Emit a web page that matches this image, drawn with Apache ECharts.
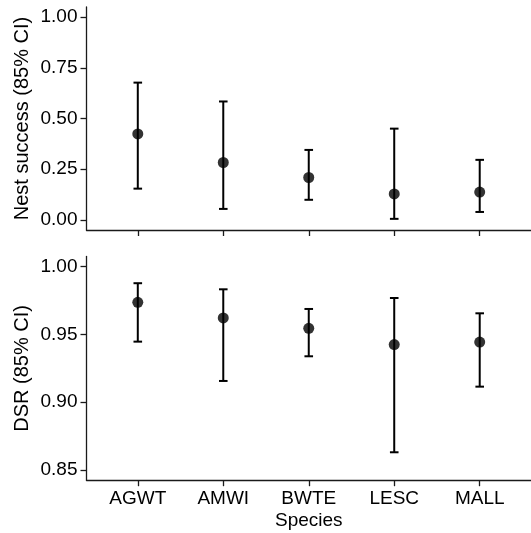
<!DOCTYPE html>
<html>
<head>
<meta charset="utf-8">
<script src="https://cdn.jsdelivr.net/npm/echarts@6/dist/echarts.min.js"></script>
<style>
  html, body { margin: 0; padding: 0; background: #fff; }
  #chart { width: 531px; height: 533px; }
</style>
</head>
<body>
<div id="chart"></div>
<script>
// species codes on the x axis
var species = ['AGWT', 'AMWI', 'BWTE', 'LESC', 'MALL'];

// top panel: nest success with 85% CI
var nestEst = [0.424, 0.283, 0.209, 0.128, 0.137];
var nestLo  = [0.154, 0.054, 0.099, 0.005, 0.039];
var nestHi  = [0.677, 0.584, 0.345, 0.450, 0.296];
var nestTicks = [0, 0.25, 0.5, 0.75, 1];

// bottom panel: daily survival rate with 85% CI
var dsrEst = [0.9737, 0.9622, 0.9545, 0.9425, 0.9444];
var dsrLo  = [0.9447, 0.9157, 0.9339, 0.8631, 0.9115];
var dsrHi  = [0.9878, 0.9833, 0.9688, 0.9769, 0.9656];
var dsrTicks = [0.85, 0.9, 0.95, 1];

var xPos = species.map(function (s, i) { return i + 1; });

var font = 'Liberation Sans, Arial, sans-serif';
var axisColor = '#1a1a1a';

function points(est) {
    return est.map(function (v, i) { return [xPos[i], v]; });
}
function bars(lo, hi) {
    return lo.map(function (v, i) { return [xPos[i], v, hi[i]]; });
}

// draw one error bar: vertical line plus two caps
function renderErrorBar(params, api) {
    var x = api.value(0);
    var bottom = api.coord([x, api.value(1)]);
    var top = api.coord([x, api.value(2)]);
    var hw = 4.3;
    var style = { stroke: '#000', lineWidth: 2 };
    return {
        type: 'group',
        children: [
            { type: 'line', shape: { x1: top[0], y1: top[1], x2: bottom[0], y2: bottom[1] }, style: style },
            { type: 'line', shape: { x1: top[0] - hw, y1: top[1], x2: top[0] + hw, y2: top[1] }, style: style },
            { type: 'line', shape: { x1: bottom[0] - hw, y1: bottom[1], x2: bottom[0] + hw, y2: bottom[1] }, style: style }
        ]
    };
}

function xAxis(gridIndex, showLabels) {
    return {
        type: 'value',
        gridIndex: gridIndex,
        min: 0.4,
        max: 5.6,
        splitLine: { show: false },
        axisLine: { onZero: false, lineStyle: { color: axisColor, width: 1.3 } },
        axisTick: { length: 6, customValues: xPos, lineStyle: { color: axisColor, width: 1.3 } },
        axisLabel: {
            show: showLabels,
            customValues: xPos,
            margin: 9,
            fontSize: 19,
            fontFamily: font,
            color: '#000',
            formatter: function (v) { return species[Math.round(v) - 1]; }
        },
        name: showLabels ? 'Species' : '',
        nameLocation: 'middle',
        nameGap: 31,
        nameTextStyle: { fontSize: 19, fontFamily: font, color: '#000' }
    };
}

function yAxis(gridIndex, min, max, ticks, title) {
    return {
        type: 'value',
        gridIndex: gridIndex,
        min: min,
        max: max,
        splitLine: { show: false },
        axisLine: { show: true, onZero: false, lineStyle: { color: axisColor, width: 1.3 } },
        axisTick: { show: true, length: 6, customValues: ticks, lineStyle: { color: axisColor, width: 1.3 } },
        axisLabel: {
            customValues: ticks,
            margin: 9,
            fontSize: 19,
            fontFamily: font,
            color: '#000',
            formatter: function (v) { return v.toFixed(2); }
        },
        name: title,
        nameLocation: 'middle',
        nameMoveOverlap: false,
        nameGap: 54,
        nameTextStyle: { fontSize: 20, fontFamily: font, color: '#000' }
    };
}

var chart = echarts.init(document.getElementById('chart'));
chart.setOption({
    backgroundColor: '#fff',
    animation: false,
    grid: [
        { left: 86.5, top: 7, width: 445, height: 223 },
        { left: 86.5, top: 256.5, width: 445, height: 223.7 }
    ],
    xAxis: [xAxis(0, false), xAxis(1, true)],
    yAxis: [
        yAxis(0, -0.05, 1.05, nestTicks, 'Nest success (85% CI)'),
        yAxis(1, 0.8425, 1.0075, dsrTicks, 'DSR (85% CI)')
    ],
    series: [
        {
            type: 'custom', xAxisIndex: 0, yAxisIndex: 0,
            renderItem: renderErrorBar,
            encode: { x: 0, y: [1, 2] },
            data: bars(nestLo, nestHi)
        },
        {
            type: 'scatter', xAxisIndex: 0, yAxisIndex: 0,
            symbolSize: 11,
            itemStyle: { color: '#000' },
            data: points(nestEst)
        },
        {
            type: 'custom', xAxisIndex: 1, yAxisIndex: 1,
            renderItem: renderErrorBar,
            encode: { x: 0, y: [1, 2] },
            data: bars(dsrLo, dsrHi)
        },
        {
            type: 'scatter', xAxisIndex: 1, yAxisIndex: 1,
            symbolSize: 11,
            itemStyle: { color: '#000' },
            data: points(dsrEst)
        }
    ]
});
</script>
</body>
</html>
